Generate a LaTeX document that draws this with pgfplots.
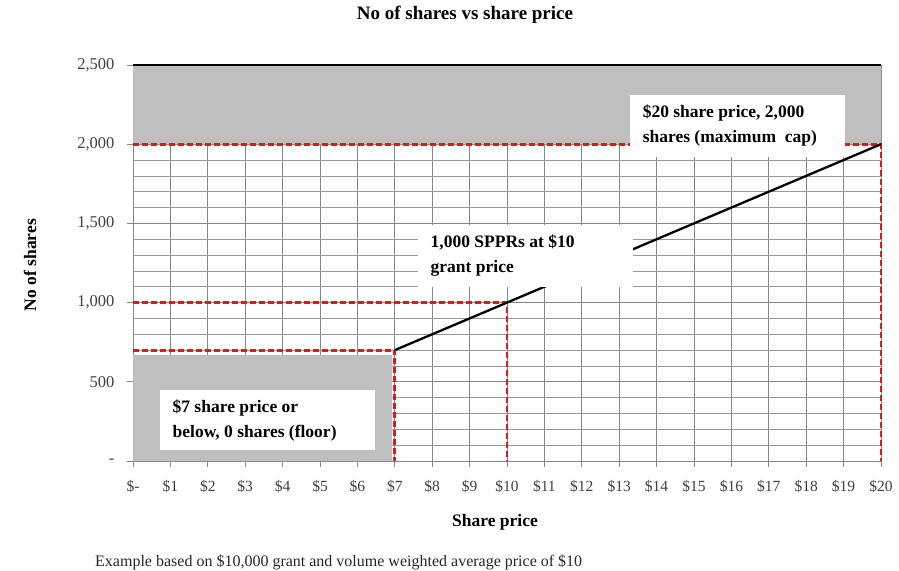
\documentclass[border=0pt]{standalone}
\usepackage{fontspec}
\setmainfont{Liberation Serif}
\usepackage{pgfplots}
\pgfplotsset{compat=1.18}
\definecolor{areagray}{HTML}{BFBFBF}
\definecolor{gridgray}{HTML}{878787}
\definecolor{dashred}{HTML}{E8141C}
\begin{document}
\begin{tikzpicture}
\path[use as bounding box] (-133pt,-109pt) rectangle (766pt,461pt);
\begin{axis}[
  at={(0pt,0pt)}, anchor=south west,
  scale only axis, width=748pt, height=396pt,
  xmin=0, xmax=20, ymin=0, ymax=2500,
  axis x line=bottom, axis y line=left,
  axis line style={gridgray, line width=0.9pt, -},
  xtick={0,1,...,20},
  xticklabels={\$-,\$1,\$2,\$3,\$4,\$5,\$6,\$7,\$8,\$9,\$10,\$11,\$12,\$13,\$14,\$15,\$16,\$17,\$18,\$19,\$20},
  ytick={0,500,1000,1500,2000,2500},
  yticklabels={-,500,{1,000},{1,500},{2,000},{2,500}},
  minor y tick num=4,
  grid=both,
  major grid style={gridgray, line width=0.9pt},
  minor grid style={gridgray!85, line width=0.75pt},
  tick align=outside,
  major tick length=6pt, minor tick length=0pt,
  tick style={gridgray, line width=0.9pt},
  xticklabel style={font=\fontsize{15.5}{17}\selectfont, text=black!75, yshift=-10pt},
  yticklabel style={font=\fontsize{16.5}{18}\selectfont, text=black!75, xshift=-9pt},
  clip=false,
]
\addplot[fill=areagray, draw=none] coordinates {(0,2000) (20,2000) (20,2500) (0,2500) (0,2000)};
\addplot[fill=areagray, draw=none] coordinates {(0,0) (6.92,0) (6.92,670) (0,670) (0,0)};
\addplot[black, line width=1.6pt] coordinates {(0,2500) (20,2500)};
\addplot[dashred, line width=2.8pt, dash pattern=on 6pt off 3pt] coordinates {(0,2000) (20,2000) (20,0)};
\addplot[dashred, line width=2.8pt, dash pattern=on 6pt off 3pt] coordinates {(0,1000) (10,1000) (10,0)};
\addplot[dashred, line width=2.8pt, dash pattern=on 6pt off 3pt] coordinates {(0,700) (7,700) (7,0)};
\addplot[black, line width=2.3pt] coordinates {(7,700) (20,2000)};
\node[fill=white, inner sep=0pt, minimum width=215pt, minimum height=62pt] at (axis cs:16.17,2115) {\begin{minipage}{190pt}\fontsize{17.5}{25}\selectfont\bfseries \$20 share price, 2,000\\ shares (maximum\ \ cap)\end{minipage}};
\node[fill=white, inner sep=0pt, minimum width=215pt, minimum height=62pt] at (axis cs:10.5,1297) {\begin{minipage}{190pt}\fontsize{17.5}{25}\selectfont\bfseries 1,000 SPPRs at \$10\\ grant price\end{minipage}};
\node[fill=white, inner sep=0pt, minimum width=215pt, minimum height=60pt] at (axis cs:3.6,258) {\begin{minipage}{190pt}\fontsize{17.5}{25}\selectfont\bfseries \$7 share price or\\ below, 0 shares (floor)\end{minipage}};
\end{axis}
\node[font=\fontsize{19}{22}\selectfont\bfseries] at (332pt,446pt) {No of shares vs share price};
\node[font=\fontsize{17.5}{20}\selectfont\bfseries, rotate=90] at (-103pt,196pt) {No of shares};
\node[font=\fontsize{17.5}{20}\selectfont\bfseries] at (362pt,-61pt) {Share price};
\node[font=\fontsize{16}{18}\selectfont, anchor=west, inner sep=0pt, text=black!85] at (-38pt,-101pt) {Example based on \$10,000 grant and volume weighted average price of \$10};
\end{tikzpicture}
\end{document}
